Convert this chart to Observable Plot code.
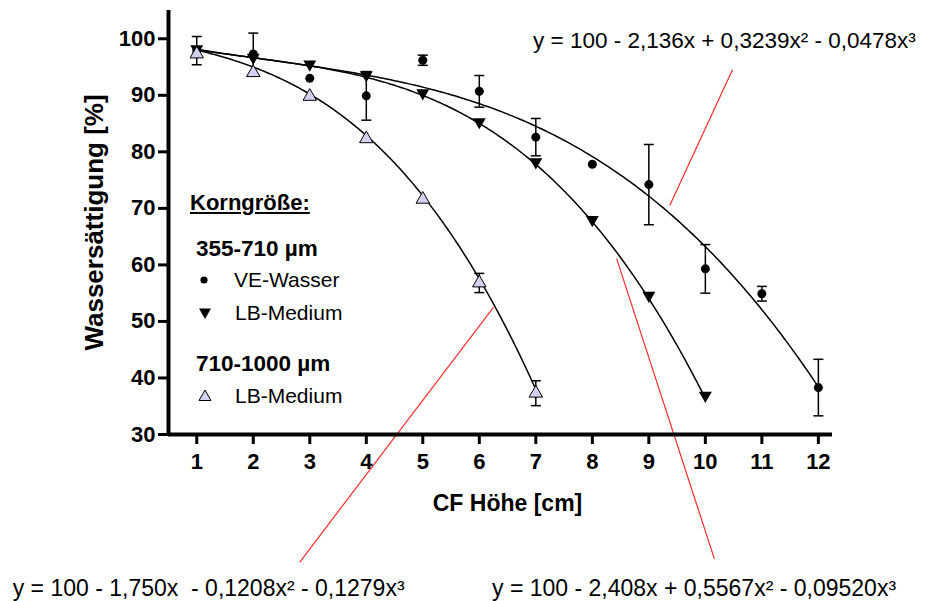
<!DOCTYPE html>
<html>
<head>
<meta charset="utf-8">
<script src="https://cdn.jsdelivr.net/npm/d3@7"></script>
<script src="https://cdn.jsdelivr.net/npm/@observablehq/plot@0.6"></script>
<style>
  body { margin: 0; background: #fff; }
  #wrap { position: relative; width: 926px; height: 601px; font-family: "Liberation Sans", Arial, sans-serif; color: #000; }
  .t { position: absolute; white-space: pre; line-height: 1; }
  .b { font-weight: bold; }
  .sym { position: absolute; overflow: visible; }
</style>
</head>
<body>
<div id="wrap"></div>
<script>
// ---- data ----
const xTicks = [1, 2, 3, 4, 5, 6, 7, 8, 9, 10, 11, 12];
const yTicks = [30, 40, 50, 60, 70, 80, 90, 100];

// 355-710 µm, VE-Wasser (filled circles)
const veX   = [1, 2, 3, 4, 5, 6, 7, 8, 9, 10, 11, 12];
const veY   = [97.9, 97.3, 93.0, 89.9, 96.2, 90.7, 82.6, 77.8, 74.2, 59.3, 54.9, 38.3];
const veErr = [2.5, 3.7, 0, 4.3, 0.9, 2.8, 3.3, 0, 7.1, 4.3, 1.3, 5.0];

// 355-710 µm, LB-Medium (filled down triangles)
const lbSmallX = [1, 2, 3, 4, 5, 6, 7, 8, 9, 10];
const lbSmallY = [98.2, 96.7, 95.5, 93.6, 90.4, 85.3, 78.2, 68.0, 54.6, 36.9];

// 710-1000 µm, LB-Medium (open lavender triangles)
const lbLargeX   = [1, 2, 3, 4, 5, 6, 7];
const lbLargeY   = [97.3, 94.0, 89.8, 82.3, 71.6, 56.8, 37.3];
const lbLargeErr = [0, 0, 0, 0, 0, 1.7, 2.2];

// polynomial fits printed on the chart: y = c0 + c1 x + c2 x² + c3 x³
const fitVE      = [100, -2.136, 0.3239, -0.0478];
const fitLBSmall = [100, -2.408, 0.5567, -0.09520];
const fitLBLarge = [100, -1.750, -0.1208, -0.1279];
const fitRanges  = [[1, 12], [1, 10], [1, 7]];

// equation labels
const eqVE      = "y = 100 - 2,136x + 0,3239x² - 0,0478x³";
const eqLBLarge = "y = 100 - 1,750x  - 0,1208x² - 0,1279x³";
const eqLBSmall = "y = 100 - 2,408x + 0,5567x² - 0,09520x³";

// red leader lines (data units), from curve towards equation
const leaderX1 = [9.37, 6.25, 8.43];
const leaderY1 = [70.5, 52.5, 61.1];
const leaderX2 = [10.48, 2.82, 10.16];
const leaderY2 = [94.5, 7.4, 8.0];

// ---- build tables ----
const ve = veX.map((x, i) => ({x, y: veY[i], err: veErr[i]}));
const lbSmall = lbSmallX.map((x, i) => ({x, y: lbSmallY[i]}));
const lbLarge = lbLargeX.map((x, i) => ({x, y: lbLargeY[i], err: lbLargeErr[i]}));
const errs = ve.concat(lbLarge).filter(d => d.err > 0);
const caps = errs.flatMap(d => [{x: d.x, y: d.y + d.err}, {x: d.x, y: d.y - d.err}]);
const poly = c => x => c[0] + c[1] * x + c[2] * x * x + c[3] * x * x * x;
const fitCurve = (c, [a, b]) => d3.range(a, b + 1e-9, (b - a) / 200).map(x => ({x, y: poly(c)(x)}));
const curves = [fitCurve(fitVE, fitRanges[0]), fitCurve(fitLBSmall, fitRanges[1]), fitCurve(fitLBLarge, fitRanges[2])];
const leaders = leaderX1.map((x1, i) => ({x1, y1: leaderY1[i], x2: leaderX2[i], y2: leaderY2[i]}));

const capSymbol = { draw(ctx, size) { const w = Math.sqrt(size / Math.PI); ctx.moveTo(-w, 0); ctx.lineTo(w, 0); } };

const plot = Plot.plot({
  width: 926,
  height: 601,
  marginLeft: 168,
  marginRight: 94,
  marginTop: 10,
  marginBottom: 167,
  x: {domain: [0.5, 12.25]},
  y: {domain: [30, 105]},
  style: {fontFamily: '"Liberation Sans", Arial, sans-serif', fontWeight: "bold", background: "white", color: "black"},
  marks: [
    Plot.link(leaders, {x1: "x1", y1: "y1", x2: "x2", y2: "y2", stroke: "#ff2b2b", strokeWidth: 1.2}),
    ...curves.map(c => Plot.line(c, {x: "x", y: "y", stroke: "black", strokeWidth: 1.5})),
    Plot.ruleX(errs, {x: "x", y1: d => d.y - d.err, y2: d => d.y + d.err, stroke: "black", strokeWidth: 1.5}),
    Plot.dot(caps, {x: "x", y: "y", symbol: capSymbol, r: 5, fill: "none", stroke: "black", strokeWidth: 1.5}),
    Plot.dot(ve, {x: "x", y: "y", r: 4.5, fill: "black", stroke: "none"}),
    Plot.dot(lbSmall, {x: "x", y: "y", symbol: "triangle", rotate: 180, r: 4.8, fill: "black", stroke: "none"}),
    Plot.dot(lbLarge, {x: "x", y: "y", symbol: "triangle", r: 5, fill: "#d2d2f0", stroke: "black", strokeWidth: 1}),
    Plot.ruleX([0.5], {stroke: "black", strokeWidth: 4}),
    Plot.ruleY([30], {stroke: "black", strokeWidth: 4}),
    Plot.axisX({ticks: xTicks, tickSize: 10, tickPadding: 9, strokeWidth: 3, fontSize: 22, label: null}),
    Plot.axisY({ticks: yTicks, tickSize: 10, tickPadding: 3, strokeWidth: 3, fontSize: 22, label: null}),
    Plot.text(["CF Höhe [cm]"], {frameAnchor: "bottom", textAnchor: "middle", lineAnchor: "middle", dx: 7, dy: 69, fontSize: 23}),
    Plot.text(["Wassersättigung [%]"], {frameAnchor: "left", textAnchor: "middle", lineAnchor: "middle", rotate: -90, dx: -74, fontSize: 26})
  ]
});

const wrap = document.getElementById("wrap");
wrap.appendChild(plot);

// ---- legend and equation labels (HTML overlay) ----
function label(text, left, top, size, cls, extra) {
  const d = document.createElement("div");
  d.className = "t " + (cls || "");
  d.textContent = text;
  d.style.left = left + "px";
  d.style.top = top + "px";
  d.style.fontSize = size + "px";
  if (extra) Object.assign(d.style, extra);
  wrap.appendChild(d);
}
function symbol(svgInner, cx, cy) {
  const ns = "http://www.w3.org/2000/svg";
  const s = document.createElementNS(ns, "svg");
  s.setAttribute("class", "sym");
  s.setAttribute("width", 20);
  s.setAttribute("height", 20);
  s.setAttribute("viewBox", "-10 -10 20 20");
  s.style.left = (cx - 10) + "px";
  s.style.top = (cy - 10) + "px";
  s.innerHTML = svgInner;
  wrap.appendChild(s);
}

label("Korngröße:", 190, 191.5, 22, "b", {textDecoration: "underline"});
label("355-710 µm", 196, 237.5, 22.5, "b");
symbol('<circle r="3.6" fill="black"/>', 203.5, 280);
label("VE-Wasser", 234, 269, 21);
symbol('<path d="M-6,-4.5L6,-4.5L0,6z" fill="black"/>', 205, 313);
label("LB-Medium", 235, 302.3, 21);
label("710-1000 µm", 196, 353, 22.5, "b");
symbol('<path d="M0,-6L6,4.5L-6,4.5z" fill="#d2d2f0" stroke="black" stroke-width="1"/>', 205, 396);
label("LB-Medium", 235, 385, 21);

label(eqVE, 533, 29.7, 22.5);
label(eqLBLarge, 12.7, 576.5, 23);
label(eqLBSmall, 492, 576.5, 23);
</script>
</body>
</html>
